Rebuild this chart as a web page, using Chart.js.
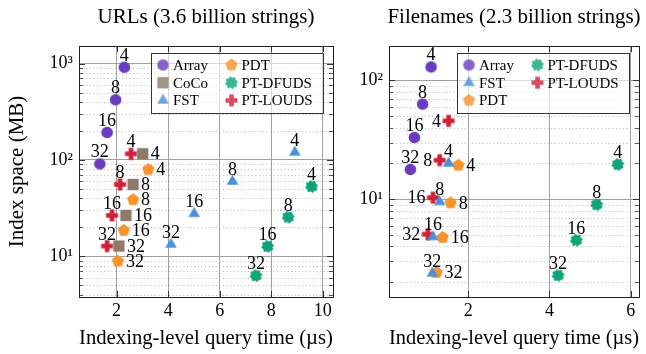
<!DOCTYPE html>
<html>
<head>
<meta charset="utf-8">
<script src="https://cdn.jsdelivr.net/npm/chart.js@4.4.1/dist/chart.umd.min.js"></script>
<style>
html, body { margin: 0; padding: 0; background: #fff; }
#wrap { position: relative; width: 646px; height: 354px; }
#urls { position: absolute; left: 0; top: 0; }
#files { position: absolute; left: 340px; top: 0; }
</style>
</head>
<body>
<div id="wrap">
<canvas id="urls" width="340" height="354"></canvas>
<canvas id="files" width="306" height="354"></canvas>
</div>
<script>
// label printed next to every point (bits per code)
const bits = [4, 8, 16, 32];

// URLs (3.6 billion strings): query time (µs) / index space (MB)
const urlsArrayTime = [2.30, 1.96, 1.63, 1.35];
const urlsArraySpace = [916, 421, 193, 91];
const urlsCocoTime = [3.01, 2.64, 2.36, 2.09];
const urlsCocoSpace = [116, 55.7, 26.6, 12.8];
const urlsFstTime = [8.92, 6.50, 5.01, 4.11];
const urlsFstSpace = [120, 59.8, 27.7, 13.3];
const urlsPdtTime = [3.23, 2.64, 2.28, 2.05];
const urlsPdtSpace = [79.7, 38.7, 18.6, 8.94];
const urlsDfudsTime = [9.57, 8.66, 7.86, 7.41];
const urlsDfudsSpace = [53.1, 25.5, 12.7, 6.31];
const urlsLoudsTime = [2.56, 2.13, 1.82, 1.63];
const urlsLoudsSpace = [116, 55.7, 26.6, 12.8];

// Filenames (2.3 billion strings)
const filesArrayTime = [1.09, 0.88, 0.68, 0.58];
const filesArraySpace = [130, 63.1, 33.1, 17.8];
const filesFstTime = [1.52, 1.30, 1.135, 1.12];
const filesFstSpace = [20.0, 9.5, 4.81, 2.37];
const filesPdtTime = [1.76, 1.57, 1.375, 1.22];
const filesPdtSpace = [19.3, 9.3, 4.76, 2.41];
const filesDfudsTime = [5.68, 5.16, 4.66, 4.21];
const filesDfudsSpace = [19.6, 9.0, 4.51, 2.28];
const filesLoudsTime = [1.52, 1.30, 1.135, 1.01];
const filesLoudsSpace = [45.7, 21.3, 10.3, 5.07];

const SERIF = "'Liberation Serif', 'DejaVu Serif', serif";
const SUP = ['⁰', '¹', '²', '³', '⁴'];

const COLORS = {
	'Array': '#6a3cbf',
	'CoCo': '#8c7a6b',
	'FST': '#4a90d9',
	'PDT': '#f7932a',
	'PT-DFUDS': '#0ea379',
	'PT-LOUDS': '#d02038'
};
const SHAPES = {
	'Array': 'circle',
	'CoCo': 'square',
	'FST': 'triangle',
	'PDT': 'pentagon',
	'PT-DFUDS': 'star',
	'PT-LOUDS': 'cross'
};

Chart.defaults.font.family = SERIF;
Chart.defaults.color = '#000';

function poly(g, n, r, start) {
	for (var k = 0; k < n; k++) {
		var a = (start + k * 360 / n) * Math.PI / 180;
		if (k == 0) g.moveTo(r * Math.cos(a), r * Math.sin(a));
		else g.lineTo(r * Math.cos(a), r * Math.sin(a));
	}
	g.closePath();
}

// pgfplots-like marks as small canvases, used as pointStyle
function makeMarker(shape, color) {
	var c = document.createElement('canvas');
	c.width = 15; c.height = 15;
	var g = c.getContext('2d');
	g.fillStyle = color;
	g.strokeStyle = color;
	g.translate(7.5, 7.5);
	g.beginPath();
	if (shape == 'circle') g.arc(0, 0, 5.8, 0, Math.PI * 2);
	else if (shape == 'square') g.rect(-5.7, -5.7, 11.4, 11.4);
	else if (shape == 'triangle') poly(g, 3, 6.7, -90);
	else if (shape == 'pentagon') poly(g, 5, 6.4, -90);
	else if (shape == 'cross') { g.rect(-2.3, -6, 4.6, 12); g.rect(-6, -2.3, 12, 4.6); }
	else if (shape == 'star') {
		for (var k = 0; k < 16; k++) {
			var a = (k * 22.5 + 11.25) * Math.PI / 180, r = k % 2 ? 6.2 : 4.7;
			if (k == 0) g.moveTo(r * Math.cos(a), r * Math.sin(a));
			else g.lineTo(r * Math.cos(a), r * Math.sin(a));
		}
		g.closePath();
		g.lineJoin = 'round';
		g.lineWidth = 0.8;
		g.stroke();
	}
	g.fill();
	return c;
}

function series(name, time, space, labelPos) {
	return {
		label: name,
		data: time.map(function (t, i) { return {x: t, y: space[i]}; }),
		pointStyle: makeMarker(SHAPES[name], COLORS[name]),
		pointRadius: 6,
		showLine: false,
		labelPos: labelPos
	};
}

function decades(min, max) {
	var out = [];
	for (var e = Math.ceil(Math.log10(min)); Math.pow(10, e) <= max; e++) out.push(Math.pow(10, e));
	return out;
}

function minors(min, max) {
	var out = [];
	for (var e = Math.floor(Math.log10(min)); Math.pow(10, e) <= max; e++)
		for (var k = 2; k <= 9; k++) {
			var v = k * Math.pow(10, e);
			if (v > min && v < max) out.push(v);
		}
	return out;
}

const paperPlugin = {
	id: 'paper',
	beforeDatasetsDraw: function (chart) {
		var ctx = chart.ctx, a = chart.chartArea, y = chart.scales.y, x = chart.scales.x;
		ctx.save();
		ctx.lineWidth = 1;
		ctx.strokeStyle = '#b8b8b8';
		ctx.setLineDash([1, 2.6]);
		minors(y.min, y.max).forEach(function (v) {
			var py = Math.round(y.getPixelForValue(v)) + 0.5;
			ctx.beginPath(); ctx.moveTo(a.left, py); ctx.lineTo(a.right, py); ctx.stroke();
		});
		ctx.setLineDash([]);
		ctx.strokeStyle = '#555';
		minors(y.min, y.max).forEach(function (v) {
			var py = Math.round(y.getPixelForValue(v)) + 0.5;
			ctx.beginPath();
			ctx.moveTo(a.left, py); ctx.lineTo(a.left + 4, py);
			ctx.moveTo(a.right - 4, py); ctx.lineTo(a.right, py);
			ctx.stroke();
		});
		ctx.strokeStyle = '#333';
		decades(y.min, y.max).forEach(function (v) {
			var py = Math.round(y.getPixelForValue(v)) + 0.5;
			ctx.beginPath();
			ctx.moveTo(a.left, py); ctx.lineTo(a.left + 6, py);
			ctx.moveTo(a.right - 6, py); ctx.lineTo(a.right, py);
			ctx.stroke();
		});
		x.ticks.forEach(function (t) {
			var px = Math.round(x.getPixelForValue(t.value)) + 0.5;
			ctx.beginPath();
			ctx.moveTo(px, a.bottom); ctx.lineTo(px, a.bottom - 6);
			ctx.moveTo(px, a.top); ctx.lineTo(px, a.top + 6);
			ctx.stroke();
		});
		ctx.restore();
	},
	afterDatasetsDraw: function (chart) {
		var ctx = chart.ctx;
		ctx.save();
		ctx.font = '18px ' + SERIF;
		ctx.fillStyle = '#000';
		chart.data.datasets.forEach(function (ds, i) {
			chart.getDatasetMeta(i).data.forEach(function (pt, j) {
				var text = String(bits[j]);
				if (ds.labelPos == 'above') {
					ctx.textAlign = 'center'; ctx.textBaseline = 'alphabetic';
					ctx.fillText(text, pt.x, pt.y - 6.5);
				} else if (ds.labelPos == 'right') {
					ctx.textAlign = 'left'; ctx.textBaseline = 'middle';
					ctx.fillText(text, pt.x + 8, pt.y + 1);
				} else {
					ctx.textAlign = 'right'; ctx.textBaseline = 'middle';
					ctx.fillText(text, pt.x - 7.5, pt.y + 1);
				}
			});
		});
		ctx.restore();
	},
	afterDraw: function (chart) {
		var ctx = chart.ctx, a = chart.chartArea;
		ctx.save();
		// title, centred over the plot box
		ctx.font = '21px ' + SERIF;
		ctx.fillStyle = '#000';
		ctx.textAlign = 'center';
		ctx.textBaseline = 'middle';
		ctx.fillText(chart.options.paperTitle, (a.left + a.right) / 2, 17);
		// legend, two columns, upper right
		var w = 172, h = 60, left = a.right - 10 - w, top = a.top + 7;
		ctx.fillStyle = 'rgba(255,255,255,0.6)';
		ctx.fillRect(left, top, w, h);
		ctx.strokeStyle = '#333';
		ctx.lineWidth = 1;
		ctx.strokeRect(Math.round(left) + 0.5, Math.round(top) + 0.5, w, h);
		ctx.font = '15px ' + SERIF;
		ctx.fillStyle = '#000';
		ctx.textAlign = 'left';
		ctx.textBaseline = 'middle';
		chart.data.datasets.forEach(function (ds, i) {
			var col = Math.floor(i / 3), row = i % 3;
			var mx = left + 12 + col * 68.5, my = top + 12 + row * 17.7;
			ctx.globalAlpha = 0.8;
			ctx.drawImage(ds.pointStyle, mx - 7.5, my - 7.5);
			ctx.globalAlpha = 1;
			ctx.fillText(ds.label, mx + 10, my + 1);
		});
		// axis box
		ctx.strokeStyle = '#222';
		ctx.strokeRect(Math.round(a.left) + 0.5, Math.round(a.top) + 0.5, Math.round(a.right - a.left), Math.round(a.bottom - a.top));
		ctx.restore();
	}
};

function options(title, xMin, xMax, yMin, yMax, yWidth, yTitle, padRight) {
	return {
		responsive: false,
		animation: false,
		paperTitle: title,
		layout: {padding: {left: 0, right: padRight, top: 46, bottom: 0}},
		plugins: {
			legend: {display: false},
			tooltip: {enabled: false},
			title: {display: false}
		},
		scales: {
			x: {
				type: 'linear', min: xMin, max: xMax,
				ticks: {stepSize: 2, includeBounds: false, padding: 3, maxRotation: 0, color: '#000', font: {size: 18}},
				grid: {color: '#a0a0a0', drawTicks: false},
				border: {display: false},
				title: {display: true, text: 'Indexing-level query time (µs)', color: '#000', font: {size: 21}, padding: {top: 0, bottom: 3}},
				afterFit: function (s) { s.height = 57; s.paddingLeft = 0; s.paddingRight = 0; }
			},
			y: {
				type: 'logarithmic', min: yMin, max: yMax,
				afterBuildTicks: function (s) {
					s.ticks = decades(s.min, s.max).map(function (v) { return {value: v, major: true}; });
				},
				ticks: {
					padding: 6, color: '#000', font: {size: 18},
					callback: function (v) { return '10' + SUP[Math.round(Math.log10(v))]; }
				},
				grid: {color: '#a0a0a0', drawTicks: false},
				border: {display: false},
				title: {display: !!yTitle, text: yTitle, color: '#000', font: {size: 21}, padding: {top: 5, bottom: 0}},
				afterFit: function (s) { s.width = yWidth; s.paddingTop = 0; s.paddingBottom = 0; }
			}
		}
	};
}

new Chart(document.getElementById('urls'), {
	type: 'scatter',
	data: {
		datasets: [
			series('Array', urlsArrayTime, urlsArraySpace, 'above'),
			series('CoCo', urlsCocoTime, urlsCocoSpace, 'right'),
			series('FST', urlsFstTime, urlsFstSpace, 'above'),
			series('PDT', urlsPdtTime, urlsPdtSpace, 'right'),
			series('PT-DFUDS', urlsDfudsTime, urlsDfudsSpace, 'above'),
			series('PT-LOUDS', urlsLoudsTime, urlsLoudsSpace, 'above')
		]
	},
	options: options('URLs (3.6 billion strings)', 0.54, 10.4, 3.79, 1521, 79, 'Index space (MB)', 7),
	plugins: [paperPlugin]
});

new Chart(document.getElementById('files'), {
	type: 'scatter',
	data: {
		datasets: [
			series('Array', filesArrayTime, filesArraySpace, 'above'),
			series('FST', filesFstTime, filesFstSpace, 'above'),
			series('PDT', filesPdtTime, filesPdtSpace, 'right'),
			series('PT-DFUDS', filesDfudsTime, filesDfudsSpace, 'above'),
			series('PT-LOUDS', filesLoudsTime, filesLoudsSpace, 'left')
		]
	},
	options: options('Filenames (2.3 billion strings)', 0.055, 6.2, 1.5, 195, 49, '', 1),
	plugins: [paperPlugin]
});
</script>
</body>
</html>
